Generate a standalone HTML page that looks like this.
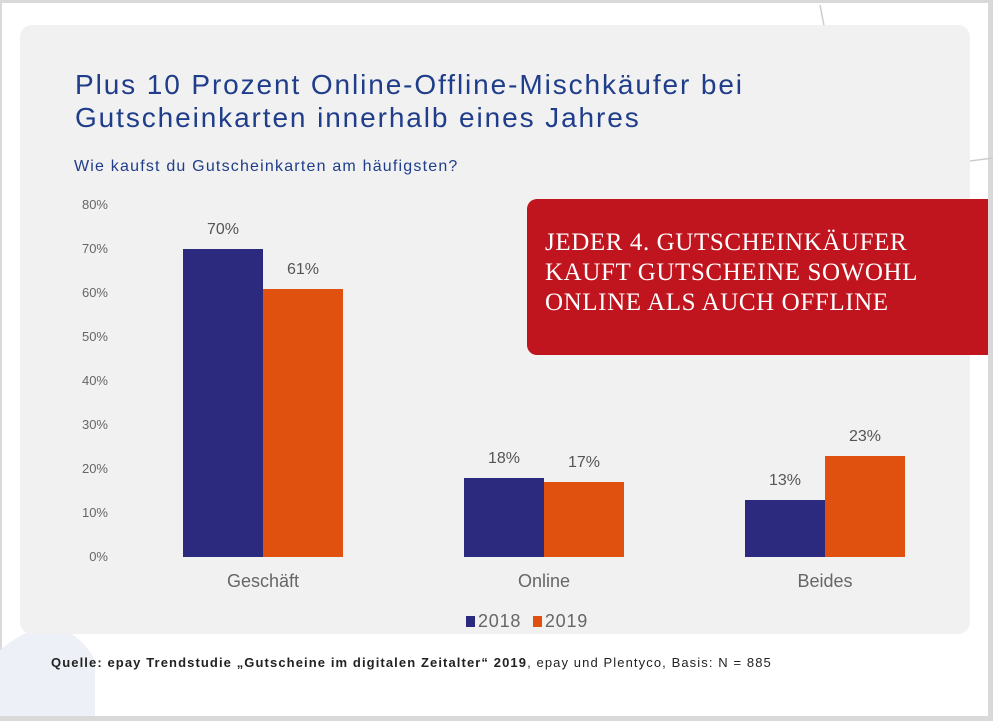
<!DOCTYPE html>
<html><head><meta charset="utf-8"><style>
body{margin:0;width:993px;height:721px;background:#d9d9d9;position:relative;overflow:hidden;font-family:"Liberation Sans",sans-serif}
.slide{position:absolute;left:2px;top:3px;width:986px;height:713px;background:#fff}
.panel{position:absolute;left:20px;top:25px;width:950px;height:609px;background:#f1f1f1;border-radius:12px}
.t{position:absolute;white-space:nowrap}
.bar{position:absolute}
.n{background:#2b2a7f}.o{background:#e0500f}
.yl{position:absolute;left:60px;width:48px;text-align:right;font-size:13px;color:#666}
.vl{position:absolute;width:80px;text-align:center;font-size:16px;color:#555}
.cl{position:absolute;width:160px;text-align:center;font-size:18px;color:#666}
</style></head><body>
<div class="slide"></div>
<svg style="position:absolute;left:0;top:0" width="993" height="721"><path d="M820 5 L848 150 Q855 178 885 172 L993 158" fill="none" stroke="#ccc" stroke-width="1.5"/><path d="M0 650 Q60 600 95 660 L95 716 L0 716Z" fill="#eef0f7"/></svg>
<div class="panel"></div>
<div class="t" style="left:75px;top:68px;font-size:28px;line-height:33px;letter-spacing:1.9px;color:#1f3d8a">Plus 10 Prozent Online-Offline-Mischkäufer bei<br>Gutscheinkarten innerhalb eines Jahres</div>
<div class="t" style="left:74px;top:158px;font-size:16px;letter-spacing:1.2px;color:#1f3d8a">Wie kaufst du Gutscheinkarten am häufigsten?</div>
<div class="yl" style="top:197px">80%</div><div class="yl" style="top:241px">70%</div><div class="yl" style="top:285px">60%</div><div class="yl" style="top:329px">50%</div><div class="yl" style="top:373px">40%</div><div class="yl" style="top:417px">30%</div><div class="yl" style="top:461px">20%</div><div class="yl" style="top:505px">10%</div><div class="yl" style="top:549px">0%</div>
<div class="bar n" style="left:183px;top:249px;width:80px;height:308px"></div>
<div class="bar o" style="left:263px;top:289px;width:80px;height:268px"></div>
<div class="bar n" style="left:464px;top:478px;width:80px;height:79px"></div>
<div class="bar o" style="left:544px;top:482px;width:80px;height:75px"></div>
<div class="bar n" style="left:745px;top:500px;width:80px;height:57px"></div>
<div class="bar o" style="left:825px;top:456px;width:80px;height:101px"></div>
<div class="vl" style="left:183px;top:221px">70%</div>
<div class="vl" style="left:263px;top:261px">61%</div>
<div class="vl" style="left:464px;top:450px">18%</div>
<div class="vl" style="left:544px;top:454px">17%</div>
<div class="vl" style="left:745px;top:472px">13%</div>
<div class="vl" style="left:825px;top:428px">23%</div>
<div class="cl" style="left:183px;top:571px">Geschäft</div>
<div class="cl" style="left:464px;top:571px">Online</div>
<div class="cl" style="left:745px;top:571px">Beides</div>
<div class="t" style="left:466px;top:611px;font-size:18px;letter-spacing:0.8px;color:#666"><span style="display:inline-block;width:9px;height:11px;background:#2b2a7f;margin-right:3px"></span>2018 &nbsp;<span style="display:inline-block;width:9px;height:11px;background:#e0500f;margin-right:3px"></span>2019</div>
<div style="position:absolute;left:527px;top:199px;width:461px;height:156px;background:#c0151f;border-radius:10px 0 0 10px"></div>
<div class="t" style="left:545px;top:228px;font-family:'Liberation Serif',serif;font-size:25px;line-height:30px;letter-spacing:0.6px;color:#fff">JEDER 4. GUTSCHEINKÄUFER<br>KAUFT GUTSCHEINE SOWOHL<br>ONLINE ALS AUCH OFFLINE</div>
<div class="t" style="left:51px;top:655px;font-size:13px;letter-spacing:1.1px;color:#222"><b>Quelle: epay Trendstudie „Gutscheine im digitalen Zeitalter“ 2019</b>, epay und Plentyco, Basis: N = 885</div>
</body></html>
